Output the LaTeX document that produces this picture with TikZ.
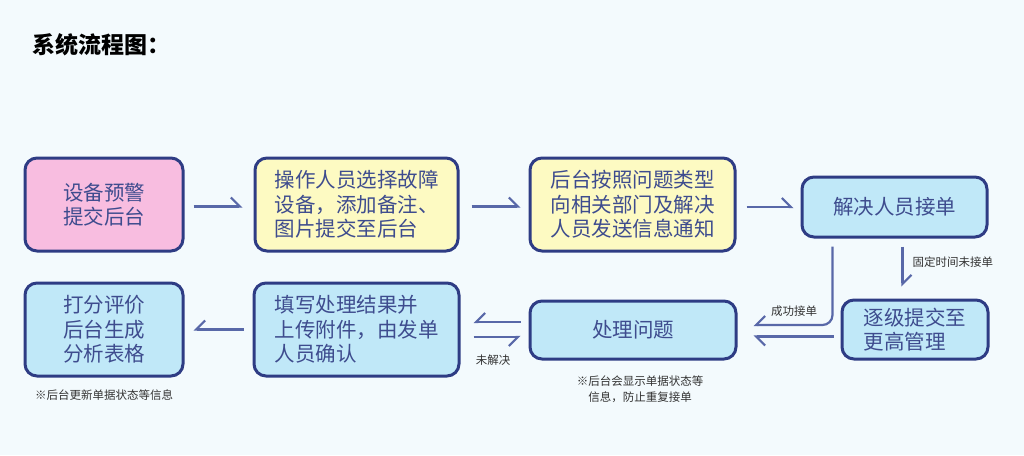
\documentclass[tikz,border=0pt]{standalone}
\usepackage{fontspec}
\setmainfont{Noto Sans CJK SC}
\usetikzlibrary{arrows.meta}
\definecolor{bgcol}{HTML}{F3FAFD}
\definecolor{edgecol}{HTML}{2E3C84}
\definecolor{inkcol}{HTML}{3E4C8E}
\definecolor{pinkfill}{HTML}{F8BDE0}
\definecolor{yellowfill}{HTML}{FDFAC2}
\definecolor{bluefill}{HTML}{C0E8F8}
\definecolor{arrcol}{HTML}{5868A8}
\begin{document}
\begin{tikzpicture}[x=1pt,y=-1pt,
  box/.style={draw=edgecol,line width=3pt,rounded corners=12pt,text=inkcol,inner sep=0pt,font=\fontsize{20.5}{24.5}\selectfont},
  arr/.style={draw=arrcol,line width=2.2pt,-{Straight Barb[left,length=9pt,width=18pt]}},
  arrr/.style={draw=arrcol,line width=2.2pt,-{Straight Barb[right,length=9pt,width=18pt]}},
  small/.style={font=\fontsize{11.5}{16}\selectfont,text=black!80}]
\fill[bgcol] (0,0) rectangle (1024,455);
\useasboundingbox (0,0) rectangle (1024,455);
\node[anchor=west,font=\fontsize{23}{26}\selectfont\bfseries] (title) at (29,45) {系统流程图：};
% top row
\node[box,fill=pinkfill,minimum width=158pt,minimum height=93pt,align=center] (warn) at (104,204.5) {设备预警\\提交后台};
\node[box,fill=yellowfill,minimum width=203pt,minimum height=93pt,align=left] (select) at (356.5,204.5) {操作人员选择故障\\设备，添加备注、\\图片提交至后台};
\node[box,fill=yellowfill,minimum width=205pt,minimum height=93pt,align=left] (notify) at (632.5,204.5) {后台按照问题类型\\向相关部门及解决\\人员发送信息通知};
\node[box,fill=bluefill,minimum width=185pt,minimum height=60pt] (accept) at (894.5,207) {解决人员接单};
% bottom row
\node[box,fill=bluefill,minimum width=146pt,minimum height=59pt,align=left] (escalate) at (915,329.5) {逐级提交至\\更高管理};
\node[box,fill=bluefill,minimum width=206pt,minimum height=58pt] (handle) at (633,330) {处理问题};
\node[box,fill=bluefill,minimum width=205pt,minimum height=93pt,align=left] (result) at (356.5,329.5) {填写处理结果并\\上传附件，由发单\\人员确认};
\node[box,fill=bluefill,minimum width=158pt,minimum height=93pt,align=center] (rate) at (104,329.5) {打分评价\\后台生成\\分析表格};
% arrows
\draw[arr,shorten <=9pt,shorten >=11pt] ([yshift=-2pt]warn.east) -- ([yshift=-2pt]warn.east -| select.west);
\draw[arr,shorten <=12pt,shorten >=8pt] ([yshift=-2pt]select.east) -- ([yshift=-2pt]select.east -| notify.west);
\draw[arr,shorten <=10pt,shorten >=7pt] (notify.east |- accept.west) -- (accept.west);
\draw[arr,shorten <=8pt,shorten >=12pt] ([xshift=8pt]accept.south) -- ([xshift=8pt]accept.south |- escalate.north);
\draw[arrr,rounded corners=10pt,shorten <=8pt,shorten >=16pt] ([xshift=-62pt]accept.south) |- ([yshift=5pt]handle.east);
\draw[arr,shorten <=7pt,shorten >=16pt] ([yshift=-7pt]escalate.west) -- ([yshift=-7pt]escalate.west -| handle.east);
\draw[arrr,shorten <=8pt,shorten >=13pt] ([yshift=8pt]handle.west) -- ([yshift=8pt]handle.west -| result.east);
\draw[arrr,shorten <=13pt,shorten >=8pt] ([yshift=-7pt]handle.west -| result.east) -- ([yshift=-7pt]handle.west);
\draw[arrr,shorten <=9pt,shorten >=9pt] (result.west) -- (rate.east);
% labels
\node[small,anchor=west] (nolabel) at (909,262) {固定时间未接单};
\node[small] (oklabel) at (794,311) {成功接单};
\node[small] (openlabel) at (493,360) {未解决};
\node[small] (note1) at (104,395) {※后台更新单据状态等信息};
\node[small,align=center] (note2) at (640,389) {※后台会显示单据状态等\\信息，防止重复接单};
\end{tikzpicture}
\end{document}
